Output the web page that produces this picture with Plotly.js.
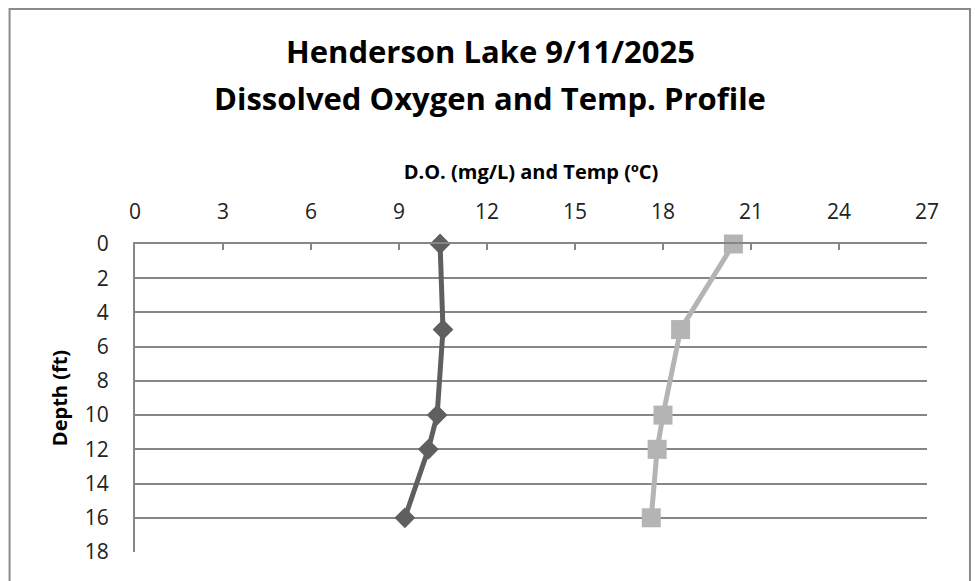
<!DOCTYPE html>
<html>
<head>
<meta charset="utf-8">
<script src="https://cdn.plot.ly/plotly-3.0.1.min.js"></script>
<style>html,body{margin:0;padding:0;background:#fff;}#chart{width:975px;height:581px;}</style>
</head>
<body>
<div id="chart"></div>
<script>
const depthFt = [0, 5, 10, 12, 16];
const dissolvedOxygen = [10.4, 10.5, 10.3, 10.0, 9.2];
const temperatureC = [20.4, 18.6, 18.0, 17.8, 17.6];
const xTicks = [0, 3, 6, 9, 12, 15, 18, 21, 24, 27];
const yTicks = [0, 2, 4, 6, 8, 10, 12, 14, 16, 18];
const titleLine1 = "Henderson Lake 9/11/2025";
const titleLine2 = "Dissolved Oxygen and Temp. Profile";
const xTitle = "D.O. (mg/L) and Temp (ºC)";
const yTitle = "Depth (ft)";

const FONT = "'Open Sans', sans-serif";
const GRID = "#868686";

const traces = [
  {
    name: "D.O. (mg/L)",
    x: dissolvedOxygen, y: depthFt,
    mode: "lines+markers",
    line: {color: "#5f5f5f", width: 5},
    marker: {symbol: "diamond", size: 16, color: "#5f5f5f"},
    cliponaxis: false
  },
  {
    name: "Temp (ºC)",
    x: temperatureC, y: depthFt,
    mode: "lines+markers",
    line: {color: "#b4b4b4", width: 5},
    marker: {symbol: "square", size: 19, color: "#b4b4b4"},
    cliponaxis: false
  }
];

const L = 134.5, R = 927, T = 244, B = 552;
const W = R - L, H = B - T;
const px = v => (v - L) / W;
const py = v => (B - v) / H;

const layout = {
  width: 975, height: 581,
  margin: {l: L, r: 975 - R, t: T, b: 581 - B, pad: 0},
  paper_bgcolor: "#ffffff",
  plot_bgcolor: "#ffffff",
  showlegend: false,
  font: {family: FONT, color: "#000", size: 17},
  xaxis: {
    side: "top",
    range: [0, 27],
    tickvals: xTicks,
    ticktext: xTicks.map(String),
    showgrid: false,
    zeroline: false,
    showline: true, linecolor: GRID, linewidth: 2,
    ticks: "inside", ticklen: 6, tickwidth: 2, tickcolor: GRID,
    tickfont: {family: FONT, size: 21, color: "#222"},
    ticklabelstandoff: 15,
    title: {text: "<b>" + xTitle + "</b>", font: {family: FONT, size: 20, color: "#000"}, standoff: 12},
    fixedrange: true
  },
  yaxis: {
    range: [18, 0],
    tickvals: yTicks,
    ticktext: yTicks.map(String),
    showgrid: true, gridcolor: GRID, gridwidth: 2,
    zeroline: false,
    showline: true, linecolor: GRID, linewidth: 2,
    ticks: "",
    tickfont: {family: FONT, size: 21, color: "#222"},
    ticklabelstandoff: 20,
    title: {text: "<b>" + yTitle + "</b>", font: {family: FONT, size: 20, color: "#000"}, standoff: 12},
    fixedrange: true
  },
  annotations: [
    {text: "<b>" + titleLine1 + "</b>", xref: "paper", yref: "paper", x: px(490), y: py(51), xanchor: "center", yanchor: "middle", showarrow: false, font: {family: FONT, size: 31, color: "#000"}},
    {text: "<b>" + titleLine2 + "</b>", xref: "paper", yref: "paper", x: px(490), y: py(98), xanchor: "center", yanchor: "middle", showarrow: false, font: {family: FONT, size: 31, color: "#000"}}
  ],
  shapes: [
    {type: "rect", xref: "paper", yref: "paper", x0: px(9), x1: px(970), y0: py(600), y1: py(9), line: {color: "#8a8a8a", width: 2}, fillcolor: "rgba(0,0,0,0)", layer: "below"}
  ]
};

Plotly.newPlot("chart", traces, layout, {displayModeBar: false, staticPlot: true});
</script>
</body>
</html>
